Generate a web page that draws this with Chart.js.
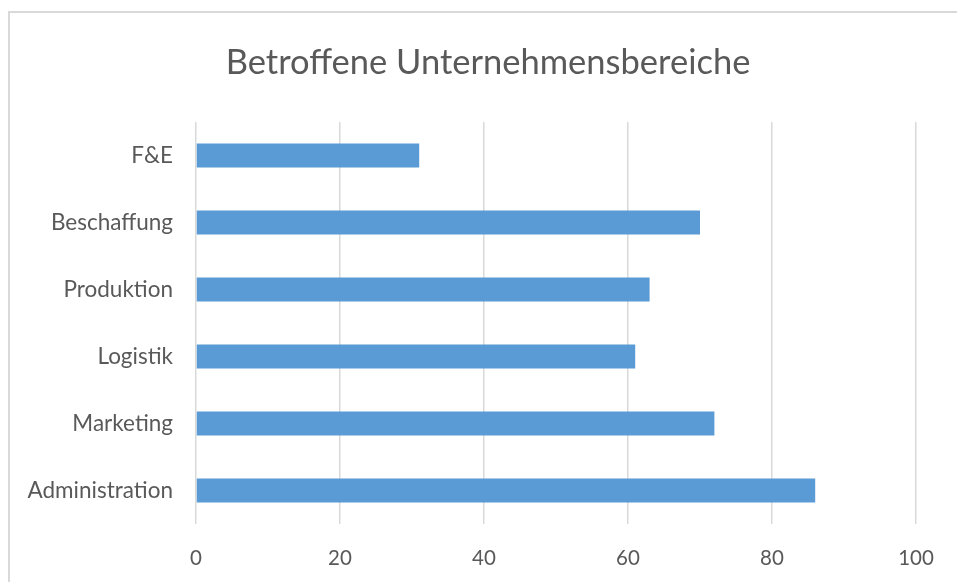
<!DOCTYPE html>
<html>
<head>
<meta charset="utf-8">
<script src="https://cdn.jsdelivr.net/npm/chart.js@4"></script>
<style>
    html, body { margin: 0; padding: 0; background: #fff; overflow: hidden; }
    #rahmen { position: absolute; left: 8px; top: 11px; width: 1000px; height: 600px; border-left: 2px solid #d9d9d9; border-top: 2px solid #d9d9d9; }
    #wrap { position: absolute; left: 0; top: 0; width: 976px; height: 582px; }
</style>
</head>
<body>
<div id="rahmen"></div>
<div id="wrap"><canvas id="chart"></canvas></div>
<script>
// ======================== DADOS ========================
const bereiche = ['F&E', 'Beschaffung', 'Produktion', 'Logistik', 'Marketing', 'Administration'];
const werte = [31, 70, 63, 61, 72, 86];
const achseMax = 100;
const achseSchritt = 20;

const grau = '#595959';
const schrift = 'Lato, "Open Sans", sans-serif';

new Chart(document.getElementById('chart'), {
    type: 'bar',
    data: {
        labels: bereiche,
        datasets: [
            {
                data: werte,
                backgroundColor: '#5b9bd5',
                categoryPercentage: 1,
                barPercentage: 0.36,
            },
        ],
    },
    options: {
        indexAxis: 'y',
        responsive: true,
        maintainAspectRatio: false,
        animation: false,
        layout: { padding: 0 },
        plugins: {
            legend: { display: false },
            tooltip: { enabled: false },
            title: {
                display: true,
                text: 'Betroffene Unternehmensbereiche',
                color: grau,
                font: { family: schrift, size: 34.5, weight: 'normal', lineHeight: 1.2 },
                padding: { top: 42, bottom: 38.6 },
            },
        },
        scales: {
            x: {
                min: 0,
                max: achseMax,
                ticks: {
                    stepSize: achseSchritt,
                    color: grau,
                    padding: 22,
                    font: { family: schrift, size: 20.5 },
                },
                grid: { color: '#d9d9d9', lineWidth: 1.5, drawTicks: false },
                border: { display: false },
                afterFit: (s) => { s.height = 58; },
            },
            y: {
                ticks: {
                    color: grau,
                    padding: 15,
                    font: { family: schrift, size: 22.5 },
                },
                grid: { display: false },
                border: { display: false },
                afterFit: (s) => { s.width = 196; },
            },
            // leere Achse rechts, damit der Titel mittig über dem Rahmen sitzt
            rechts: {
                type: 'linear',
                position: 'right',
                display: true,
                ticks: { display: false },
                grid: { display: false },
                border: { display: false },
                afterFit: (s) => { s.width = 60; },
            },
        },
    },
});
</script>
</body>
</html>
